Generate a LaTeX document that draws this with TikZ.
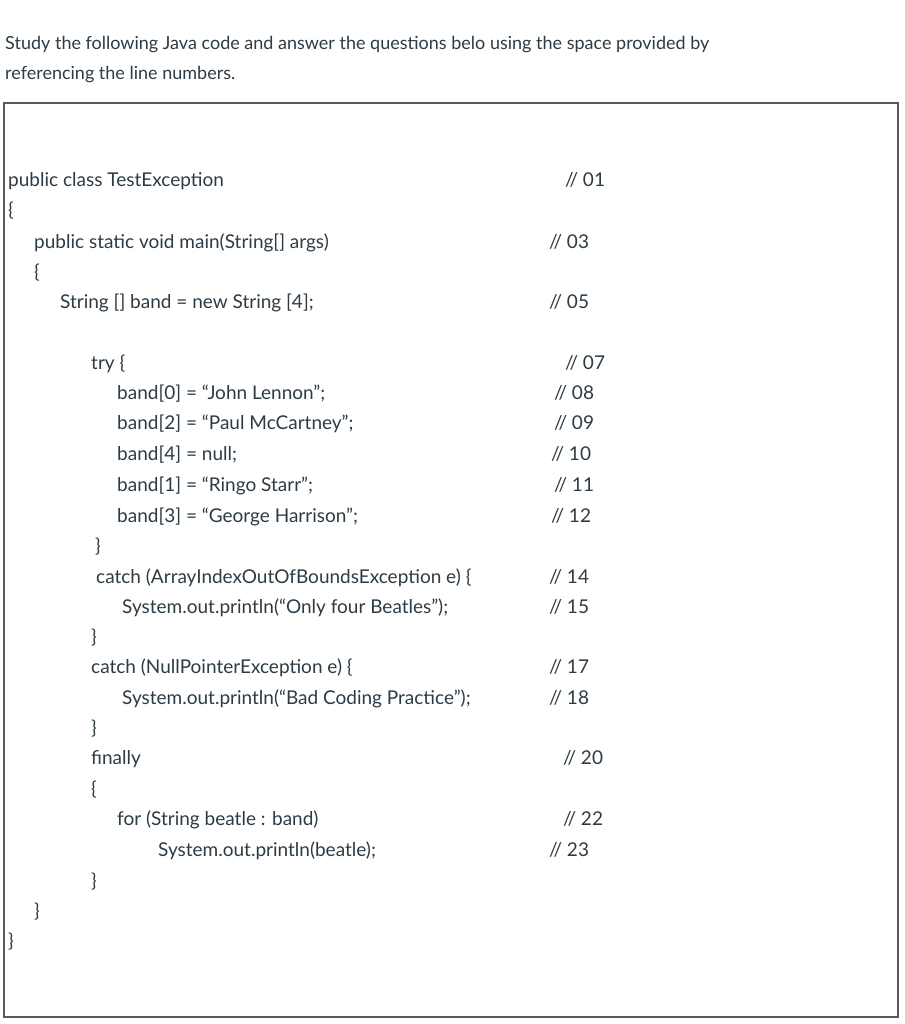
\documentclass[tikz,border=0pt]{standalone}
\usepackage{fontspec}
\setmainfont{Lato}
\definecolor{txt}{HTML}{2D3B45}
\begin{document}
\begin{tikzpicture}[x=1pt,y=-1pt,
  t/.style={anchor=base west,inner sep=0pt,font=\fontsize{19}{22}\selectfont,text=txt},
  h/.style={anchor=base west,inner sep=0pt,font=\fontsize{18}{22}\selectfont,text=txt}]
\useasboundingbox (0,0) rectangle (904,1024);
\draw[line width=1.3pt,draw=black!65] (4,103) rectangle (898,1017);
\node[h] (h1) at (5,50) {Study the following Java code and answer the questions belo using the space provided by};
\node[h] (h2) at (5,80) {referencing the line numbers.};
\foreach \x/\y/\s [count=\i] in {
 8/180/{public class TestException},8/210/\{,34/241/{public static void main(String[] args)},34/271/\{,
 60/301/{String [] band = new String [4];},91/362/{try \{},117/392/{band[0] = “John Lennon”;},
 117/422/{band[2] = “Paul McCartney”;},117/453/{band[4] = null;},117/484/{band[1] = “Ringo Starr”;},
 117/515/{band[3] = “George Harrison”;},95/545/\},96/576/{catch (ArrayIndexOutOfBoundsException e) \{},
 122/606/{System.out.println(“Only four Beatles”);},91/636/\},91/666/{catch (NullPointerException e) \{},
 122/697/{System.out.println(“Bad Coding Practice”);},91/727/\},91/757/finally,91/788/\{,
 117/818/{for (String beatle : band)},158/849/{System.out.println(beatle);},91/880/\},34/910/\},8/940/\}}
 \node[t] (c\i) at (\x,\y+7) {\s};
\foreach \x/\y/\s [count=\i] in {
 565/180/01,549/241/03,549/301/05,565/362/07,554/392/08,554/422/09,551/453/10,554/484/11,551/515/12,
 549/576/14,549/606/15,549/666/17,549/697/18,563/757/20,563/818/22,549/849/23}
 \node[t] (n\i) at (\x,\y+7) {// \s};
\end{tikzpicture}
\end{document}
